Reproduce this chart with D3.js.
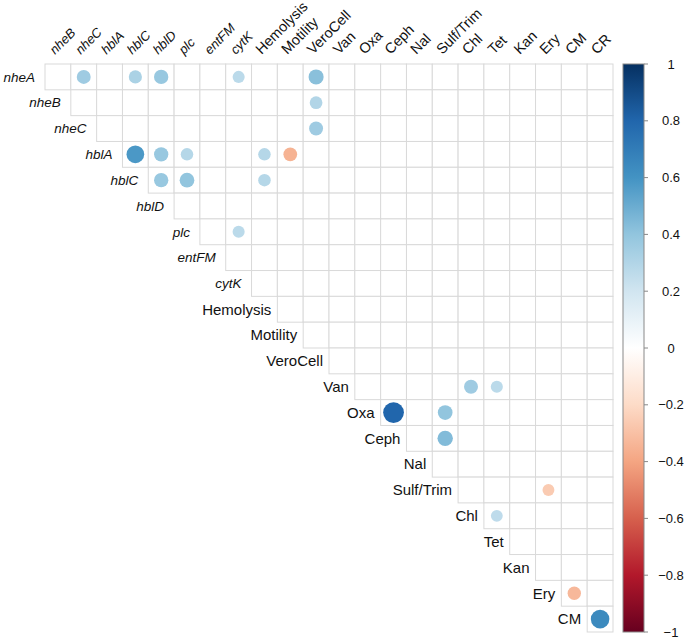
<!DOCTYPE html>
<html>
<head>
<meta charset="utf-8">
<script src="https://cdn.jsdelivr.net/npm/d3@7"></script>
<style>
  body { margin: 0; background: #fff; }
  text { font-family: "Liberation Sans", Arial, sans-serif; fill: #111; }
</style>
</head>
<body>
<script>
// variables in matrix order
const vars = ["nheA", "nheB", "nheC", "hblA", "hblC", "hblD", "plc", "entFM", "cytK",
  "Hemolysis", "Motility", "VeroCell", "Van", "Oxa", "Ceph", "Nal", "Sulf/Trim",
  "Chl", "Tet", "Kan", "Ery", "CM", "CR"];
const italicVars = ["nheA", "nheB", "nheC", "hblA", "hblC", "hblD", "plc", "entFM", "cytK"];

// significant correlations only (others left blank)
const corrPairs = [
  ["nheA", "nheC", 0.36], ["nheA", "hblC", 0.32], ["nheA", "hblD", 0.38],
  ["nheA", "cytK", 0.27], ["nheA", "VeroCell", 0.42],
  ["nheB", "VeroCell", 0.30], ["nheC", "VeroCell", 0.36],
  ["hblA", "hblC", 0.58], ["hblA", "hblD", 0.38], ["hblA", "plc", 0.29],
  ["hblA", "Hemolysis", 0.29], ["hblA", "Motility", -0.35],
  ["hblC", "hblD", 0.38], ["hblC", "plc", 0.40], ["hblC", "Hemolysis", 0.29],
  ["plc", "cytK", 0.27],
  ["Van", "Chl", 0.36], ["Van", "Tet", 0.27],
  ["Oxa", "Ceph", 0.80], ["Oxa", "Sulf/Trim", 0.40], ["Ceph", "Sulf/Trim", 0.44],
  ["Sulf/Trim", "Ery", -0.26], ["Chl", "Tet", 0.26],
  ["Ery", "CM", -0.33], ["CM", "CR", 0.64]
];

const legendTicks = [-1, -0.8, -0.6, -0.4, -0.2, 0, 0.2, 0.4, 0.6, 0.8, 1];
const palette = ["#67001F", "#B2182B", "#D6604D", "#F4A582", "#FDDBC7", "#FFFFFF",
  "#D1E5F0", "#92C5DE", "#4393C3", "#2166AC", "#053061"];

const W = 685, H = 641;
const gridLeft = 45, gridTop = 64, gridSize = 568;

const svg = d3.select("body").append("svg")
  .attr("width", W).attr("height", H);

const rows = vars.slice(0, -1);
const cols = vars.slice(1);

const x = d3.scaleBand().domain(cols).range([gridLeft, gridLeft + gridSize]);
const y = d3.scaleBand().domain(rows).range([gridTop, gridTop + gridSize]);
const cell = x.bandwidth();

const color = d3.scaleLinear().domain(legendTicks).range(palette);

// cells of upper triangle
const cells = [];
rows.forEach((r, i) => {
  vars.slice(i + 1).forEach(c => cells.push([r, c]));
});

svg.append("g").selectAll("rect")
  .data(cells)
  .join("rect")
  .attr("x", d => x(d[1]))
  .attr("y", d => y(d[0]))
  .attr("width", cell)
  .attr("height", cell)
  .attr("fill", "#fff")
  .attr("stroke", "#d9d9d9")
  .attr("stroke-width", 1);

// circles: area proportional to |r|
svg.append("g").selectAll("circle")
  .data(corrPairs)
  .join("circle")
  .attr("cx", d => x(d[1]) + cell / 2)
  .attr("cy", d => y(d[0]) + cell / 2)
  .attr("r", d => 0.9 * Math.sqrt(Math.abs(d[2])) * cell / 2)
  .attr("fill", d => color(d[2]));

const isItalic = v => italicVars.includes(v);

// row labels
svg.append("g").selectAll("text")
  .data(rows)
  .join("text")
  .attr("x", (d, i) => gridLeft + i * cell - (isItalic(d) ? 10 : 6))
  .attr("y", d => y(d) + cell / 2)
  .attr("dy", "0.35em")
  .attr("text-anchor", "end")
  .attr("font-size", d => isItalic(d) ? 13.5 : 15)
  .attr("font-style", d => isItalic(d) ? "italic" : "normal")
  .text(d => d);

// column labels
svg.append("g").selectAll("text")
  .data(cols)
  .join("text")
  .attr("transform", d => `translate(${x(d) + cell / 2 - 3},${gridTop - 9}) rotate(-45)`)
  .attr("text-anchor", "start")
  .attr("font-size", d => isItalic(d) ? 13 : 14.5)
  .attr("font-style", d => isItalic(d) ? "italic" : "normal")
  .text(d => d);

// colour legend
const barX = 623, barW = 21;
const ly = d3.scaleLinear().domain([-1, 1]).range([gridTop + gridSize, gridTop]);

const grad = svg.append("defs").append("linearGradient")
  .attr("id", "cbar").attr("x1", 0).attr("y1", 1).attr("x2", 0).attr("y2", 0);
grad.selectAll("stop")
  .data(legendTicks)
  .join("stop")
  .attr("offset", d => (d + 1) / 2)
  .attr("stop-color", d => color(d));

svg.append("rect")
  .attr("x", barX).attr("y", gridTop)
  .attr("width", barW).attr("height", gridSize)
  .attr("fill", "url(#cbar)")
  .attr("stroke", "#888").attr("stroke-width", 1);

const lg = svg.append("g");
lg.selectAll("line")
  .data(legendTicks)
  .join("line")
  .attr("x1", barX + barW).attr("x2", barX + barW + 4)
  .attr("y1", d => ly(d)).attr("y2", d => ly(d))
  .attr("stroke", "#888");
lg.selectAll("text")
  .data(legendTicks)
  .join("text")
  .attr("x", 671)
  .attr("y", d => ly(d))
  .attr("dy", "0.35em")
  .attr("text-anchor", "middle")
  .attr("font-size", 13)
  .text(d => d3.format("")(+d.toFixed(1)));
</script>
</body>
</html>
